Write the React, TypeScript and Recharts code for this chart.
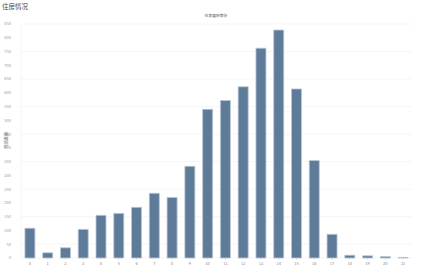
import React from 'react';
import { BarChart, Bar, XAxis, YAxis, CartesianGrid } from 'recharts';

const categories = ['0', '1', '2', '3', '4', '5', '6', '7', '8', '9', '10', '11', '12', '13', '14', '15', '16', '17', '18', '19', '20', '21'];
const counts = [108, 19, 37, 104, 155, 162, 184, 235, 220, 333, 540, 572, 622, 762, 828, 614, 354, 86, 10, 8, 5, 2];
const yTicks = [0, 50, 100, 150, 200, 250, 300, 350, 400, 450, 500, 550, 600, 650, 700, 750, 800, 850];

const data = categories.map((c, i) => ({ name: c, value: counts[i] }));

export default function App() {
  return (
    <div style={{ position: 'absolute', left: 0, top: 0, width: 432, height: 275, background: '#fff', fontFamily: '"Noto Sans CJK SC", "Noto Sans", sans-serif' }}>
      <div style={{ position: 'absolute', left: 2, top: 1, fontSize: 6.5, color: '#444', lineHeight: '10px' }}>住房情况</div>
      <div style={{ position: 'absolute', left: 0, width: 432, top: 13, textAlign: 'center', fontSize: 3.8, color: '#555', lineHeight: '5px' }}>
        住房面积等份
      </div>
      <div style={{ position: 'absolute', left: 3, top: 148, fontSize: 4, color: '#555', transform: 'rotate(-90deg)', transformOrigin: 'left top', whiteSpace: 'nowrap' }}>住房数量</div>
      <BarChart
        width={432}
        height={275}
        data={data}
        margin={{ top: 24, right: 20, bottom: 8, left: 0 }}
        barCategoryGap="22%"
      >
        <CartesianGrid vertical={false} stroke="#f0f0f0" strokeWidth={0.6} />
        <XAxis
          dataKey="name"
          tick={{ fontSize: 4, fill: '#888' }}
          tickLine={{ stroke: '#ccc', strokeWidth: 0.5 }}
          tickSize={2}
          axisLine={false}
          height={9}
          interval={0}
        />
        <YAxis
          domain={[0, 850]}
          ticks={yTicks}
          width={21}
          tick={{ fontSize: 4, fill: '#999' }}
          tickLine={false}
          axisLine={{ stroke: '#f0f0f0', strokeWidth: 0.6 }}
          tickMargin={4}
        />
        <Bar dataKey="value" fill="#5f7b9a" stroke="#b9c6d4" strokeWidth={0.8} isAnimationActive={false} />
      </BarChart>
    </div>
  );
}
